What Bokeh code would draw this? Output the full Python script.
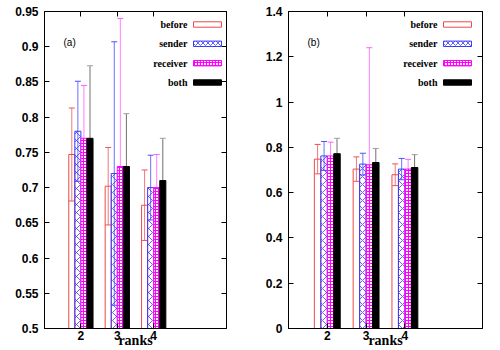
from bokeh.plotting import figure
from bokeh.layouts import row
from bokeh.models import (Range1d, FixedTicker, LinearAxis, Label, BoxAnnotation,
                          ColumnDataSource, CustomLabelingPolicy)
from bokeh.transform import dodge
from bokeh.embed import file_html
from bokeh.resources import INLINE

# ---------------- data ----------------
ranks = [2, 3, 4]
series = ["before", "sender", "receiver", "both"]

# panel (a)
a_before = [0.747, 0.702, 0.675]
a_before_err = [0.066, 0.055, 0.050]
a_sender = [0.780, 0.720, 0.700]
a_sender_err = [0.071, 0.187, 0.046]
a_receiver = [0.770, 0.730, 0.700]
a_receiver_err = [0.075, 0.210, 0.047]
a_both = [0.770, 0.730, 0.710]
a_both_err = [0.103, 0.075, 0.060]

# panel (b)
b_before = [0.748, 0.704, 0.679]
b_before_err = [0.065, 0.054, 0.048]
b_sender = [0.762, 0.726, 0.704]
b_sender_err = [0.064, 0.048, 0.047]
b_receiver = [0.762, 0.723, 0.704]
b_receiver_err = [0.061, 0.517, 0.043]
b_both = [0.772, 0.733, 0.711]
b_both_err = [0.068, 0.062, 0.057]

a_yticks = [0.5, 0.55, 0.6, 0.65, 0.7, 0.75, 0.8, 0.85, 0.9, 0.95]
a_ytick_labels = ["0.5", "0.55", "0.6", "0.65", "0.7", "0.75", "0.8", "0.85", "0.9", "0.95"]
b_yticks = [0, 0.2, 0.4, 0.6, 0.8, 1.0, 1.2, 1.4]
b_ytick_labels = ["0", "0.2", "0.4", "0.6", "0.8", "1", "1.2", "1.4"]

x_label = "ranks"

# ---------------- styles ----------------
offsets = [-0.25, -1 / 12, 1 / 12, 0.25]
bar_w = 1 / 6
styles = {
    "before": dict(fill_color=None, line_color="#f04848"),
    "sender": dict(fill_color=None, line_color="#3a3aff", hatch_pattern="diagonal_cross",
                   hatch_color="#3a3aff", hatch_scale=8, hatch_weight=0.8),
    "receiver": dict(fill_color="white", line_color="#ff00ff", hatch_pattern="cross",
                     hatch_color="#ff00ff", hatch_scale=3, hatch_weight=1.2),
    "both": dict(fill_color="black", line_color="black"),
}
err_colors = {"before": "#f07878", "sender": "#6f6fff", "receiver": "#ff80ff", "both": "#707070"}
cap_colors = {"before": "#f05050", "sender": "#5050ff", "receiver": "#ff60ff", "both": "#a0a0a0"}

no_labels = CustomLabelingPolicy(code="return new Set()")


def make_panel(tag, data, yticks, ytick_labels, width, bl, br):
    p = figure(width=width, height=350, x_range=Range1d(1, 6),
               y_range=Range1d(yticks[0], yticks[-1]),
               output_backend="svg", toolbar_location=None,
               min_border_left=bl, min_border_right=br, min_border_top=10, min_border_bottom=22)
    p.xgrid.visible = False
    p.ygrid.visible = False
    p.outline_line_color = "black"
    p.outline_line_width = 1
    p.background_fill_color = "white"
    p.border_fill_color = "white"

    for i, name in enumerate(series):
        means, errs = data[name]
        src = ColumnDataSource(dict(
            rank=ranks, top=means,
            upper=[m + e for m, e in zip(means, errs)],
            lower=[m - e for m, e in zip(means, errs)],
        ))
        xd = dodge("rank", offsets[i], range=p.x_range)
        p.segment(x0=xd, y0="lower", x1=xd, y1="upper", source=src,
                  line_color=err_colors[name], line_width=1)
        p.scatter(x=xd, y="upper", marker="dash", size=6, source=src,
                  line_color=cap_colors[name], line_width=1)
        p.scatter(x=xd, y="lower", marker="dash", size=6, source=src,
                  line_color=cap_colors[name], line_width=1)
        p.vbar(x=xd, top="top", bottom=0, width=bar_w, source=src, line_width=1,
               **styles[name])

    # axes
    for ax in p.xaxis:
        ax.ticker = FixedTicker(ticks=ranks)
        ax.axis_label = x_label
        ax.axis_label_text_font = "Liberation Serif"
        ax.axis_label_text_font_style = "bold"
        ax.axis_label_text_font_size = "14px"
        ax.axis_label_text_color = "black"
        ax.axis_label_standoff = -10
        ax.major_label_standoff = 2
    for ax in p.yaxis:
        ax.ticker = FixedTicker(ticks=yticks)
        ax.major_label_overrides = dict(zip(yticks, ytick_labels))
        ax.major_label_standoff = 6
    for ax in p.xaxis + p.yaxis:
        ax.major_tick_in = 5
        ax.major_tick_out = 0
        ax.minor_tick_in = 0
        ax.minor_tick_out = 0
        ax.axis_line_color = "black"
        ax.major_tick_line_color = "black"
        ax.major_label_text_font = "Liberation Sans"
        ax.major_label_text_font_style = "bold"
        ax.major_label_text_font_size = "12px"
        ax.major_label_text_color = "black"

    ra = LinearAxis(ticker=FixedTicker(ticks=yticks), major_tick_in=5, major_tick_out=0,
                    minor_tick_in=0, minor_tick_out=0, major_label_policy=no_labels,
                    major_label_standoff=0)
    p.add_layout(ra, "right")
    ta = LinearAxis(ticker=FixedTicker(ticks=ranks), major_tick_in=5, major_tick_out=0,
                    minor_tick_in=0, minor_tick_out=0, major_label_policy=no_labels,
                    major_label_standoff=0)
    p.add_layout(ta, "above")

    fw = width - bl - br
    fh = 318
    # legend (label left, swatch right)
    row_y = [fh - 14, fh - 33.3, fh - 52.7, fh - 72]
    for i, name in enumerate(series):
        p.add_layout(Label(x=fw - 45, y=row_y[i], x_units="screen", y_units="screen",
                           text=name, text_align="right", text_baseline="middle",
                           text_font="Liberation Serif", text_font_style="bold",
                           text_font_size="10px", text_color="black"))
        st = styles[name]
        box = BoxAnnotation(left=fw - 39, right=fw - 11, bottom=row_y[i] - 2.7, top=row_y[i] + 2.7,
                            left_units="screen", right_units="screen",
                            bottom_units="screen", top_units="screen",
                            fill_color=st["fill_color"] if st["fill_color"] else "white",
                            fill_alpha=1.0, line_color=st["line_color"], line_alpha=1.0,
                            line_width=1, level="overlay")
        if "hatch_pattern" in st:
            box.hatch_pattern = st["hatch_pattern"]
            box.hatch_color = st["hatch_color"]
            box.hatch_scale = min(st["hatch_scale"], 5)
            box.hatch_weight = st["hatch_weight"]
        p.add_layout(box)

    p.add_layout(Label(x=19, y=fh - 32, x_units="screen", y_units="screen", text=tag,
                       text_align="left", text_baseline="middle", text_font="Liberation Sans",
                       text_font_size="10px", text_color="black"))
    return p


p1 = make_panel("(a)", {
    "before": (a_before, a_before_err), "sender": (a_sender, a_sender_err),
    "receiver": (a_receiver, a_receiver_err), "both": (a_both, a_both_err)},
    a_yticks, a_ytick_labels, 250, 44, 18)
p2 = make_panel("(b)", {
    "before": (b_before, b_before_err), "sender": (b_sender, b_sender_err),
    "receiver": (b_receiver, b_receiver_err), "both": (b_both, b_both_err)},
    b_yticks, b_ytick_labels, 250, 38, 18)

layout = row(p1, p2)
open("out.html", "w").write(file_html(layout, INLINE))
